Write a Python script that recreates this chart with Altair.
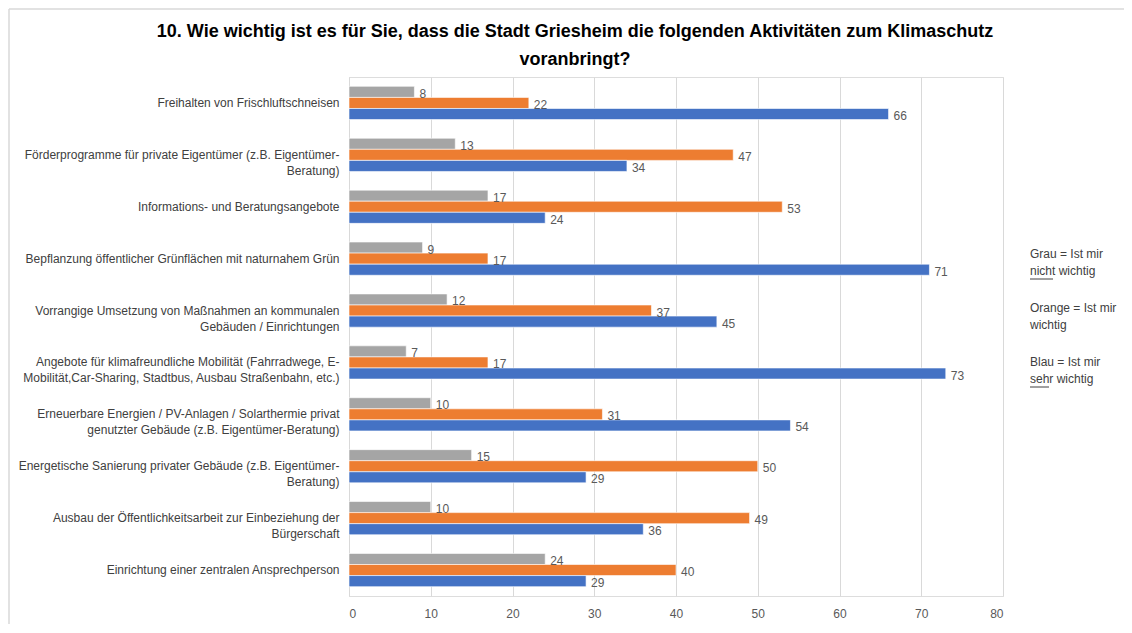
import altair as alt
import pandas as pd

# ---- data -------------------------------------------------------------
categories = [
    ["Freihalten von Frischluftschneisen"],
    ["Förderprogramme für private Eigentümer (z.B. Eigentümer-", "Beratung)"],
    ["Informations- und Beratungsangebote"],
    ["Bepflanzung öffentlicher Grünflächen mit naturnahem Grün"],
    ["Vorrangige Umsetzung von Maßnahmen an kommunalen", "Gebäuden / Einrichtungen"],
    ["Angebote für klimafreundliche Mobilität (Fahrradwege, E-",
     "Mobilität,Car-Sharing, Stadtbus, Ausbau Straßenbahn, etc.)"],
    ["Erneuerbare Energien / PV-Anlagen / Solarthermie privat",
     "genutzter Gebäude (z.B. Eigentümer-Beratung)"],
    ["Energetische Sanierung privater Gebäude (z.B. Eigentümer-", "Beratung)"],
    ["Ausbau der Öffentlichkeitsarbeit zur Einbeziehung der", "Bürgerschaft"],
    ["Einrichtung einer zentralen Ansprechperson"],
]
grau = [8, 13, 17, 9, 12, 7, 10, 15, 10, 24]
orange = [22, 47, 53, 17, 37, 17, 31, 50, 49, 40]
blau = [66, 34, 24, 71, 45, 73, 54, 29, 36, 29]
series = ["Grau", "Orange", "Blau"]
colors = ["#A5A5A5", "#ED7D31", "#4472C4"]
x_ticks = [0, 10, 20, 30, 40, 50, 60, 70, 80]

title_lines = [
    "10. Wie wichtig ist es für Sie, dass die Stadt Griesheim die folgenden Aktivitäten zum Klimaschutz",
    "voranbringt?",
]
legend_notes = [
    ["Grau = Ist mir", "nicht wichtig"],
    ["Orange = Ist mir", "wichtig"],
    ["Blau = Ist mir", "sehr wichtig"],
]

FONT = "Liberation Sans Narrow, Liberation Sans, sans-serif"

cat_keys = ["|".join(c) for c in categories]
rows = []
for i, key in enumerate(cat_keys):
    for s, vals in zip(series, [grau, orange, blau]):
        rows.append({"cat": key, "series": s, "value": vals[i]})
df = pd.DataFrame(rows)

base = alt.Chart(df).encode(
    y=alt.Y(
        "cat:N",
        sort=cat_keys,
        scale=alt.Scale(paddingInner=0.36, paddingOuter=0.18),
        axis=alt.Axis(
            title=None,
            labelExpr="split(datum.label, '|')",
            labelAlign="right",
            labelLimit=400,
            labelFontSize=12,
            labelColor="#404040",
            labelFont=FONT,
            labelLineHeight=16,
            labelPadding=10,
            ticks=False,
            domainColor="#D9D9D9",
        ),
    ),
    yOffset=alt.YOffset("series:N", sort=series),
    x=alt.X(
        "value:Q",
        scale=alt.Scale(domain=[0, 80]),
        axis=alt.Axis(
            title=None,
            values=x_ticks,
            grid=True,
            gridColor="#D9D9D9",
            domain=False,
            ticks=False,
            labelPadding=12,
            labelFontSize=12,
            labelColor="#595959",
            labelFont=FONT,
        ),
    ),
)

bars = base.mark_bar(stroke="white", strokeWidth=0.6).encode(
    color=alt.Color("series:N", scale=alt.Scale(domain=series, range=colors), legend=None)
)
labels = base.mark_text(
    align="left", baseline="middle", dx=5, dy=2, fontSize=12, color="#595959", font=FONT
).encode(text="value:Q")

one = pd.DataFrame({"a": [0]})

title_mark = alt.Chart(one).mark_text(
    text=title_lines, align="center", baseline="middle", fontSize=18,
    fontWeight="bold", lineHeight=28, color="#000000", font=FONT,
).encode(x=alt.value(226), y=alt.value(-45))

note_layers = []
for k, lines in enumerate(legend_notes):
    note_layers.append(
        alt.Chart(one)
        .mark_text(
            text=lines, align="left", baseline="top", fontSize=12, lineHeight=17,
            color="#404040", font=FONT,
        )
        .encode(x=alt.value(681), y=alt.value(172 + k * 54))
    )

underline_nicht = alt.Chart(one).mark_rule(color="#404040", strokeWidth=1).encode(
    x=alt.value(681), x2=alt.value(704), y=alt.value(202)
)
underline_sehr = alt.Chart(one).mark_rule(color="#404040", strokeWidth=1).encode(
    x=alt.value(681), x2=alt.value(700), y=alt.value(310)
)

# light frame around the chart (top and left edges)
frame_top = alt.Chart(one).mark_rule(color="#D9D9D9", strokeWidth=1.5).encode(
    x=alt.value(-340), x2=alt.value(775), y=alt.value(-68)
)
frame_left = alt.Chart(one).mark_rule(color="#D9D9D9", strokeWidth=1.5).encode(
    x=alt.value(-340), y=alt.value(-68), y2=alt.value(547)
)

chart = (
    alt.layer(bars, labels, title_mark, *note_layers, underline_nicht, underline_sehr,
              frame_top, frame_left)
    .properties(
        width=654,
        height=519,
        padding={"left": 341, "top": 69, "right": 121, "bottom": 28},
        autosize=alt.AutoSizeParams(type="none"),
    )
    .configure_view(stroke=None)
    .configure(background="white")
)

chart.save("out.html", embed_options={"renderer": "svg", "actions": False})
